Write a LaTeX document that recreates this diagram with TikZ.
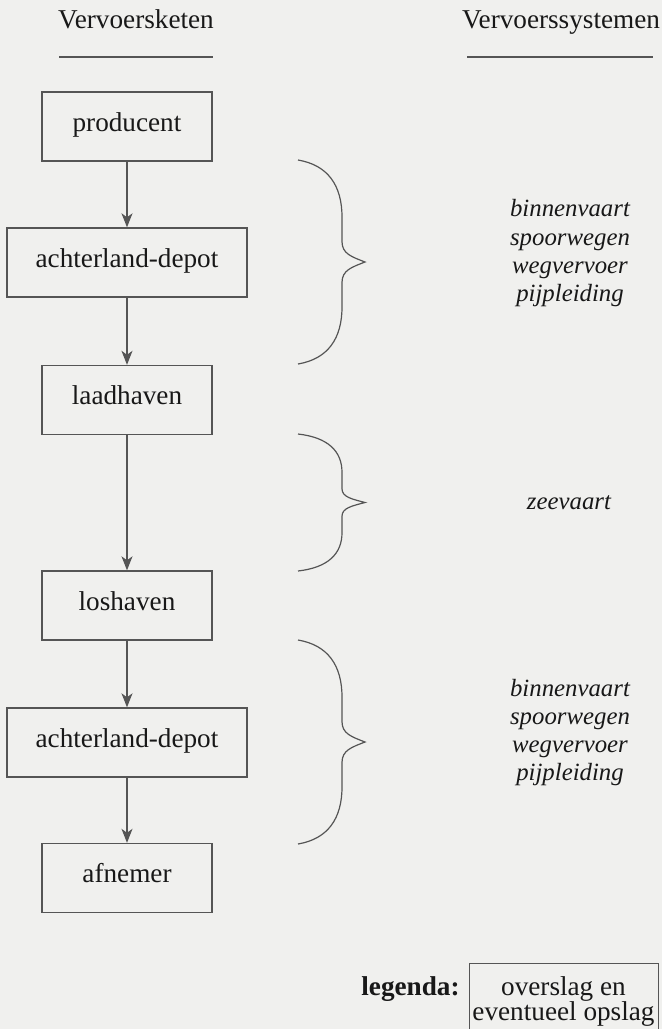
\documentclass[tikz,border=0pt]{standalone}
\usepackage{fontspec}
\setmainfont{Liberation Serif}
\usetikzlibrary{arrows.meta}

\definecolor{paper}{RGB}{240,240,238}
\definecolor{ink}{RGB}{24,24,24}
\definecolor{rule}{RGB}{85,85,85}

\newcommand\labelfont{\fontsize{13.6}{15}\selectfont}
\newcommand\modefont{\fontsize{12.4}{14}\selectfont\itshape}

\tikzset{
  every node/.style={font=\labelfont, text=ink, inner sep=0pt},
  station/.style={draw=rule, line width=0.7pt, minimum height=34.5pt,
                  text height=0.72em, text depth=0.26em},
  smallbox/.style={station, minimum width=85pt},
  widebox/.style={station, minimum width=120pt},
  flow/.style={draw=rule, line width=0.6pt,
               -{Stealth[length=7pt,width=5.5pt,inset=2pt]}},
  bracket/.style={draw=rule, line width=0.6pt},
  headrule/.style={draw=rule, line width=0.8pt},
  modetext/.style={anchor=base, font=\modefont},
  plaintext/.style={anchor=base},
}

% curly brace from y=#1 down to y=#2, opening towards the chain
\newcommand\modebrace[2]{%
  \pgfmathsetmacro\bt{#1}\pgfmathsetmacro\bb{#2}%
  \pgfmathsetmacro\bm{(#1+#2)/2}\pgfmathsetmacro\bh{(#2-#1)/2}%
  \draw[bracket] (298,\bt)
    .. controls (328,{\bt+0.05*\bh}) and (342,{\bt+0.25*\bh}) .. (342,{\bt+0.56*\bh})
    -- (342,{\bm-0.2*\bh})
    .. controls (342,{\bm-0.08*\bh}) and (352,{\bm-0.05*\bh}) .. (365,\bm)
    .. controls (352,{\bm+0.05*\bh}) and (342,{\bm+0.08*\bh}) .. (342,{\bm+0.2*\bh})
    -- (342,{\bb-0.56*\bh})
    .. controls (342,{\bb-0.25*\bh}) and (328,{\bb-0.05*\bh}) .. (298,\bb);
}

\begin{document}
\begin{tikzpicture}[x=0.5pt,y=-0.5pt]
  \fill[paper] (0,0) rectangle (662,1029);
  \useasboundingbox (0,0) rectangle (662,1029);

  % column headings
  \node[plaintext] (hchain) at (136,28) {Vervoersketen};
  \node[plaintext] (hsys) at (561,28) {Vervoerssystemen};
  \coordinate (ul1a) at (59,57);  \coordinate (ul1b) at (213,57);
  \coordinate (ul2a) at (467,57); \coordinate (ul2b) at (653,57);
  \draw[headrule] (ul1a) -- (ul1b);
  \draw[headrule] (ul2a) -- (ul2b);

  % the transport chain
  \node[smallbox] (prod) at (127,126.5) {producent};
  \node[widebox]  (dep1) at (127,262.5) {achterland-depot};
  \node[smallbox] (load) at (127,400)   {laadhaven};
  \node[smallbox] (unld) at (127,605.5) {loshaven};
  \node[widebox]  (dep2) at (127,742.5) {achterland-depot};
  \node[smallbox] (cons) at (127,878)   {afnemer};

  \draw[flow] (prod) -- (dep1);
  \draw[flow] (dep1) -- (load);
  \draw[flow] (load) -- (unld);
  \draw[flow] (unld) -- (dep2);
  \draw[flow] (dep2) -- (cons);

  % braces grouping the legs of the chain
  \modebrace{160}{364}
  \modebrace{434}{571}
  \modebrace{640}{844}

  % transport systems per leg
  \node[modetext] (m1a) at (570,216) {binnenvaart};
  \node[modetext] (m1b) at (570,245) {spoorwegen};
  \node[modetext] (m1c) at (570,273) {wegvervoer};
  \node[modetext] (m1d) at (570,301.5) {pijpleiding};

  \node[modetext] (m2) at (569,509) {zeevaart};

  \node[modetext] (m3a) at (570,696) {binnenvaart};
  \node[modetext] (m3b) at (570,724) {spoorwegen};
  \node[modetext] (m3c) at (570,752) {wegvervoer};
  \node[modetext] (m3d) at (570,780) {pijpleiding};

  % legend
  \node[plaintext, anchor=base east, font=\labelfont\bfseries]
    (legtitle) at (460,995) {legenda:};
  \node[draw=rule, line width=0.7pt, anchor=north west,
        minimum width=94.5pt, minimum height=42pt] (legbox) at (469,963) {};
  \node[plaintext] (leg1) at (563.5,995) {overslag en};
  \node[plaintext] (leg2) at (563.5,1020) {eventueel opslag};
\end{tikzpicture}
\end{document}
